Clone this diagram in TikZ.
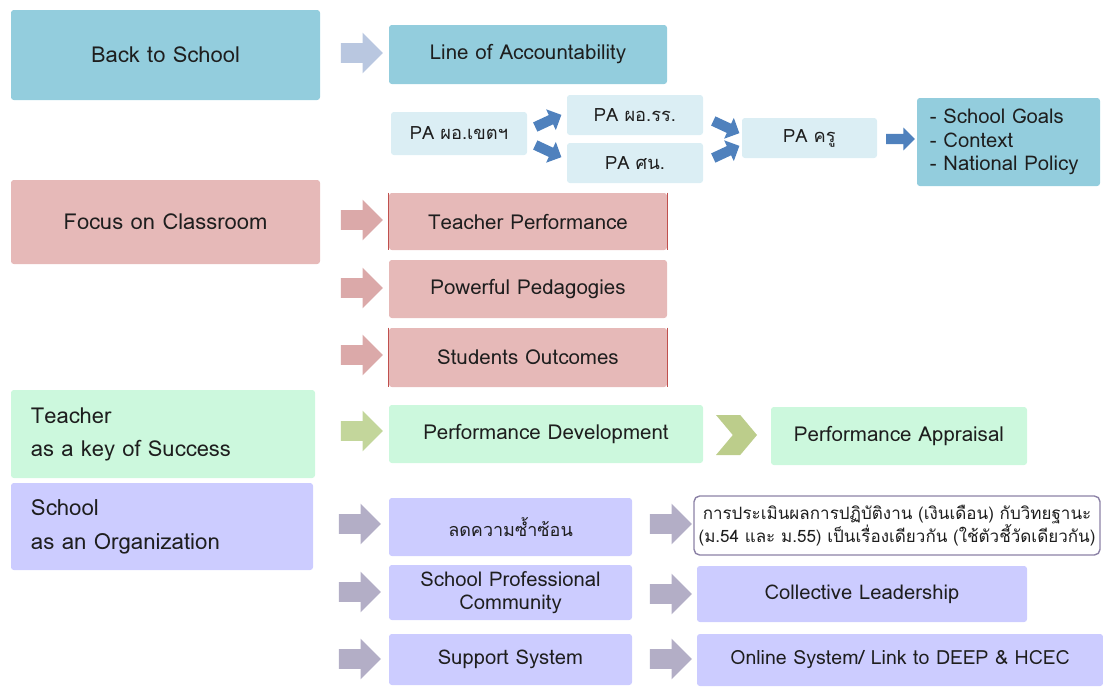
\documentclass[tikz,border=0pt]{standalone}
\usepackage{fontspec}
\setmainfont{Loma}[Script=Thai]
\usetikzlibrary{shapes.arrows,shapes.symbols}
\definecolor{skyfill}{HTML}{93CDDD}
\definecolor{palefill}{HTML}{DBEEF4}
\definecolor{rosefill}{HTML}{E6B9B8}
\definecolor{roseedge}{HTML}{C0504D}
\definecolor{mintfill}{HTML}{CCF8DD}
\definecolor{lilacfill}{HTML}{CCCCFF}
\definecolor{lilacedge}{HTML}{8C82A6}
\definecolor{arrowsky}{HTML}{B9C7E0}
\definecolor{arrowblue}{HTML}{4F81BD}
\definecolor{arrowrose}{HTML}{DBA9A9}
\definecolor{arrowolive}{HTML}{C3D69B}
\definecolor{arrowlilac}{HTML}{B3AEC6}
\definecolor{inkgrey}{HTML}{1E1E1E}
\begin{document}
\begin{tikzpicture}
[x=0.025cm,y=-0.025cm,
  boxdecorate/.style={shape=rectangle,inner sep=0pt,align=center,
    rounded corners=2pt,text=inkgrey,font=\fontsize{14.6}{17}\selectfont},%
  headdecorate/.style={boxdecorate,font=\fontsize{15.6}{23.5}\selectfont},%
  arrowdecorate/.style={shape=single arrow,inner sep=0.2375cm,
    single arrow head extend=0.2625cm,minimum height=1.05cm,fill=#1},
  smallarrow/.style={shape=single arrow,inner sep=0.12cm,
    single arrow head extend=0.16cm,minimum height=0.72cm,fill=arrowblue}]
\useasboundingbox (0,0) rectangle (1103,686);
%% blue group
\node (back) at (165.5,55) [headdecorate,fill=skyfill,
  minimum width=309*0.025cm,minimum height=90*0.025cm] {Back to School};
\node (line) at (528,54.5) [boxdecorate,fill=skyfill,
  minimum width=278*0.025cm,minimum height=59*0.025cm] {Line of Accountability};
\foreach \nodename/\x/\y/\w/\h/\label in {
  pazone/459/133.5/136/43/PA ผอ.เขตฯ,
  paschool/635/115/136/40/PA ผอ.รร.,
  pasup/635/163/136/40/PA ศน.,
  pateach/809.5/138/135/40/PA ครู} {
  \node (\nodename) at (\x,\y) [boxdecorate,fill=palefill,
    font=\fontsize{13}{17}\selectfont,
    minimum width=\w*0.025cm,minimum height=\h*0.025cm] {\label};
}
\node (goals) at (1008.5,142) [boxdecorate,fill=skyfill,align=left,
  minimum width=183*0.025cm,minimum height=88*0.025cm,text width=3.93cm,
  font=\fontsize{14.4}{16.7}\selectfont]
  {- School Goals\\- Context\\- National Policy\vphantom{g}\\[-6pt]};
%% pink group
\node (focus) at (165.5,222) [headdecorate,fill=rosefill,
  minimum width=309*0.025cm,minimum height=84*0.025cm] {Focus on Classroom};
\foreach \nodename/\x/\y/\w/\h/\label in {
  tperf/528/221.5/278/57/Teacher Performance,
  pedag/528/289/278/58/Powerful Pedagogies,
  outc/528/357.5/278/59/Students Outcomes} {
  \node (\nodename) at (\x,\y) [boxdecorate,fill=rosefill,
    minimum width=\w*0.025cm,minimum height=\h*0.025cm] {\label};
}
\foreach \nodename in {tperf,outc} {
  \draw[roseedge,line width=0.6pt] (\nodename.north east) -- (\nodename.south east);
  \draw[roseedge,line width=0.6pt] (\nodename.north west) -- (\nodename.south west);
}
%% green group
\node (teacher) at (163,434) [headdecorate,fill=mintfill,align=left,
  minimum width=304*0.025cm,minimum height=88*0.025cm,text width=6.6cm]
  {Teacher\\as a key of Success};
\node (pdev) at (546,434) [boxdecorate,fill=mintfill,
  minimum width=314*0.025cm,minimum height=58*0.025cm] {Performance Development};
\node (pappr) at (899,436) [boxdecorate,fill=mintfill,
  minimum width=256*0.025cm,minimum height=58*0.025cm] {Performance Appraisal};
%% lilac group
\node (school) at (162,526.5) [headdecorate,fill=lilacfill,align=left,
  minimum width=302*0.025cm,minimum height=87*0.025cm,text width=6.55cm,
  font=\fontsize{15.8}{24}\selectfont] {School\\as an Organization};
\node (reduce) at (510.5,527) [boxdecorate,fill=lilacfill,
  font=\fontsize{12.8}{17}\selectfont,
  minimum width=243*0.025cm,minimum height=58*0.025cm] {ลดความซ้ำซ้อน};
\foreach \nodename/\x/\y/\w/\h/\label in {
  spc/510.5/592.5/243/55/School Professional\\Community,
  collect/862/594/330/56/Collective Leadership,
  support/510.5/659.5/243/51/Support System} {
  \node (\nodename) at (\x,\y) [boxdecorate,fill=lilacfill,
    font=\fontsize{14.4}{16.5}\selectfont,
    minimum width=\w*0.025cm,minimum height=\h*0.025cm] {\label};
}
\node (online) at (900,660) [boxdecorate,fill=lilacfill,
  font=\fontsize{13.9}{16.5}\selectfont,
  minimum width=406*0.025cm,minimum height=52*0.025cm]
  {Online System/ Link to DEEP \& HCEC};
\node (thaibox) at (897,525.5) [boxdecorate,fill=white,draw=lilacedge,
  line width=1pt,rounded corners=4pt,font=\fontsize{12.1}{16.5}\selectfont,
  minimum width=406*0.025cm,minimum height=59*0.025cm]
  {การประเมินผลการปฏิบัติงาน (เงินเดือน) กับวิทยฐานะ\\
   (ม.54 และ ม.55) เป็นเรื่องเดียวกัน (ใช้ตัวชี้วัดเดียวกัน)};
%% block arrows
\foreach \arrowname/\x/\y/\tone in {ar1/357/53/arrowsky,
  ar2/357/220/arrowrose, ar3/357/288/arrowrose, ar4/357/355/arrowrose,
  ar5/357/431/arrowolive, ar6/355/524/arrowlilac, ar7/355/592/arrowlilac,
  ar8/355/659/arrowlilac, ar9/666/524/arrowlilac, ar10/666/594/arrowlilac,
  ar11/666/659/arrowlilac} {
  \node (\arrowname) at (\x,\y) [arrowdecorate=\tone] {};
}
\foreach \arrowname/\x/\y/\turn in {br1/546/122/25, br2/546/150/-25,
  br3/724/126/-25, br4/724/153/25} {
  \node (\arrowname) at (\x,\y) [smallarrow,rotate=\turn] {};
}
\node (br5) at (898,139) [smallarrow] {};
\node (chev) at (736.5,435) [shape=signal,signal to=east,signal from=west,
  fill=arrowolive!90!olive,inner sep=0pt,minimum width=41*0.025cm,
  minimum height=40*0.025cm,signal pointer angle=100] {};
\end{tikzpicture}
\end{document}
